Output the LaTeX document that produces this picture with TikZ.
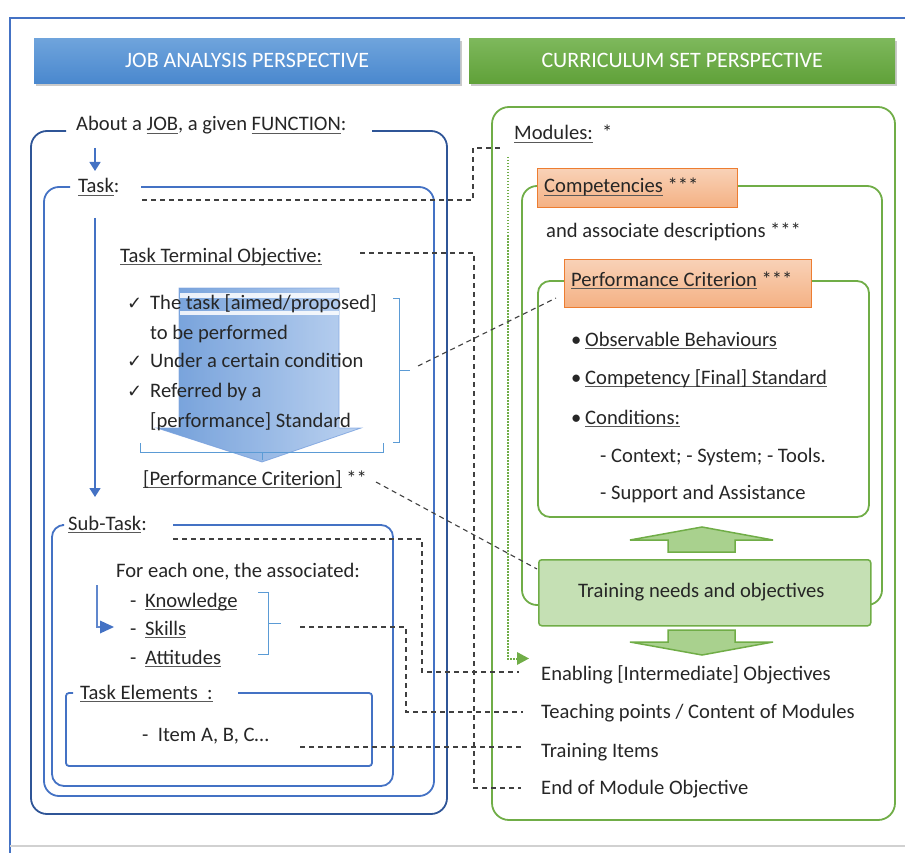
\documentclass[tikz,border=0pt]{standalone}
\usepackage{fontspec}
\setmainfont{Carlito}
\newfontfamily\symfont{DejaVu Sans}
\usetikzlibrary{arrows.meta,shadows}

% underline at a fixed depth below the baseline
\newcommand\ulx[1]{\setbox0\hbox{#1}\rlap{\color{black!65}\rule[-3.2pt]{\wd0}{1.1pt}}\box0\relax}
\newcommand\tick{{\symfont\fontsize{18}{20}\selectfont ✓}}

\definecolor{jobblue}{HTML}{4472C4}
\definecolor{darkblue}{HTML}{2F5597}
\definecolor{cgreen}{HTML}{70AD47}
\definecolor{lgreen}{HTML}{C5E0B4}
\definecolor{mgreen}{HTML}{A9D18E}
\definecolor{orangeb}{HTML}{ED7D31}
\definecolor{txtc}{HTML}{262626}
\definecolor{dashc}{HTML}{404040}
\definecolor{brk}{HTML}{5B9BD5}

\tikzset{
  lbl/.style={anchor=base west, inner sep=0pt, text=txtc, font=\fontsize{20.6}{24}\selectfont},
  header/.style={minimum height=45pt, inner sep=0pt, text=white, font=\fontsize{22}{26}\selectfont,
    drop shadow={shadow xshift=2pt, shadow yshift=-3pt, opacity=0.35, fill=black!60}},
  bluebox/.style={draw=jobblue, line width=1.8pt, rounded corners=#1},
  greenbox/.style={draw=cgreen, line width=1.8pt, rounded corners=#1},
  orangebox/.style={draw=orangeb, line width=1pt, top color=orangeb!35, bottom color=orangeb!60,
    anchor=north west, inner sep=0pt},
  linkdash/.style={draw=dashc, line width=1.1pt, dash pattern=on 5pt off 4pt},
  bracket/.style={draw=brk, line width=1pt},
  blueflow/.style={draw=jobblue, line width=1.6pt, -{Triangle[width=11pt,length=9pt]}},
  blockarrow/.style={draw=cgreen, line width=1.5pt, fill=mgreen},
}

\begin{document}
\begin{tikzpicture}[x=1pt, y=-1pt]
\useasboundingbox (0,0) rectangle (905,853);

% page frame
\draw[jobblue, line width=1.5pt] (905,18) -- (10,18) -- (10,853);
\draw[black!18, line width=2pt] (10,846) -- (905,846);

% headers
\node[header, minimum width=426pt, anchor=north west,
  top color={rgb,255:red,111;green,164;blue,220}, bottom color={rgb,255:red,74;green,136;blue,206}]
  (hjob) at (34,38) {JOB ANALYSIS PERSPECTIVE};
\node[header, minimum width=426pt, anchor=north west,
  top color={rgb,255:red,126;green,184;blue,92}, bottom color={rgb,255:red,96;green,161;blue,57}]
  (hcur) at (469,38) {CURRICULUM SET PERSPECTIVE};

% ---------------- job analysis side ----------------
\draw[draw=darkblue, line width=1.8pt, rounded corners=16pt]
  (66,131) -- (31,131) -- (31,814) -- (447,814) -- (447,131) -- (372,131);
\node[lbl] (job) at (76,131) {About a \ulx{JOB}, a given \ulx{FUNCTION}:};

\draw[bluebox=15pt] (70,187) -- (44,187) -- (44,796) -- (434,796) -- (434,187) -- (141,187);
\node[lbl] (task) at (78,193) {\ulx{Task}:};

\coordinate (a1s) at (95,148); \coordinate (a1e) at (95,171);
\draw[blueflow] (a1s) -- (a1e);
\coordinate (a2s) at (95,218); \coordinate (a2e) at (95,497);
\draw[blueflow] (a2s) -- (a2e);

\node[lbl] (tto) at (120,262) {\ulx{Task Terminal Objective:}};

% translucent down arrow behind the objective list
\path[left color={rgb,255:red,78;green,134;blue,208}, right color={rgb,255:red,170;green,198;blue,236},
  draw={rgb,255:red,120;green,160;blue,222}, line width=0.8pt, opacity=0.8]
  (179,288) -- (339,288) -- (339,428) -- (361,428) -- (262,462) -- (157,428) -- (179,428) -- cycle;
\fill[white, opacity=0.85] (179.5,293) rectangle (338.5,298);
\fill[white, opacity=0.85] (179.5,311) rectangle (338.5,315);

\node[lbl] (ck1) at (127,309) {\tick};
\node[lbl] (l1) at (150,309) {The task [aimed/proposed]};
\node[lbl] (l2) at (150,339) {to be performed};
\node[lbl] (ck2) at (127,367) {\tick};
\node[lbl] (l3) at (150,367) {Under a certain condition};
\node[lbl] (ck3) at (127,397) {\tick};
\node[lbl] (l4) at (150,397) {Referred by a};
\node[lbl] (l5) at (150,427) {[performance] Standard};

% brackets around the objective list
\draw[bracket] (393,298) -- (399,298) -- (399,442) -- (393,442);
\coordinate (brR) at (410,370);
\draw[bracket] (399,370) -- (brR);
\draw[bracket] (140,443) -- (140,452) -- (383,452) -- (383,443);
\draw[bracket] (262,452) -- (262,460);

\node[lbl] (pc) at (143,485) {\ulx{[Performance Criterion]} **};

% sub-task
\draw[bluebox=12pt] (62,525) -- (52,525) -- (52,786) -- (393,786) -- (393,525) -- (173,525);
\node[lbl] (sub) at (68,530) {\ulx{Sub-Task}:};
\node[lbl] (fe) at (116,577) {For each one, the associated:};
\node[lbl] (d1) at (130,607) {-};
\node[lbl] (kn) at (145,607) {\ulx{Knowledge}};
\node[lbl] (d2) at (130,635) {-};
\node[lbl] (sk) at (145,635) {\ulx{Skills}};
\node[lbl] (d3) at (130,664) {-};
\node[lbl] (at) at (145,664) {\ulx{Attitudes}};

% bent pointer towards the skills list
\coordinate (a3s) at (97,585); \coordinate (a3m) at (97,627); \coordinate (a3e) at (101,627);
\draw[draw=jobblue!85, line width=1.3pt] (a3s) -- (a3m) -- (a3e);
\fill[jobblue] (100,620.5) -- (114,627) -- (100,633.5) -- cycle;

\draw[bracket] (258,592) -- (268,592) -- (268,654) -- (258,654);
\coordinate (ksaR) at (281,623);
\draw[bracket] (268,623) -- (ksaR);

% task elements
\draw[bluebox=3pt] (73,693) -- (66,693) -- (66,766) -- (372,766) -- (372,693) -- (238,693);
\node[lbl] (te) at (80,699) {\ulx{Task Elements\ \ :}};
\node[lbl] (it) at (142,741) {-\ \ Item A, B, C…};

% ---------------- curriculum side ----------------
\draw[greenbox=17pt] (492,107) rectangle (895,820);
\node[lbl] (mod) at (514,140) {\ulx{Modules:}\ \ *};

\draw[greenbox=15pt] (522,186) rectangle (882,605);
\node[orangebox, minimum width=200pt, minimum height=39pt] (comp) at (537,168) {};
\node[lbl] (compt) at (544,193) {\ulx{Competencies} ***};
\node[lbl] (desc) at (546,238) {and associate descriptions ***};

\draw[greenbox=12pt] (538,281) rectangle (869,517);
\node[orangebox, minimum width=247pt, minimum height=48pt] (perf) at (564,259) {};
\node[lbl] (perft) at (571,286) {\ulx{Performance Criterion} ***};

\node[lbl] (b1) at (571,346) {•};
\node[lbl] (ob) at (585,346) {\ulx{Observable Behaviours}};
\node[lbl] (b2) at (571,384) {•};
\node[lbl] (cs) at (585,384) {\ulx{Competency [Final] Standard}};
\node[lbl] (b3) at (571,424) {•};
\node[lbl] (cond) at (585,424) {\ulx{Conditions:}};
\node[lbl] (ctx) at (600,462) {- Context; - System; - Tools.};
\node[lbl] (sup) at (600,499) {- Support and Assistance};

% block arrows around the training box
\draw[blockarrow] (702,527) -- (773,540) -- (735,540) -- (735,552) -- (668,552) -- (668,540) -- (630,540) -- cycle;
\node[draw=cgreen, line width=1.5pt, fill=lgreen, rounded corners=3pt, minimum width=332pt, minimum height=66pt,
  anchor=north west, inner sep=0pt] (train) at (538,559) {};
\node[lbl] (traint) at (578,597) {Training needs and objectives};
\draw[blockarrow] (668,630) -- (735,630) -- (735,642) -- (773,642) -- (702,655) -- (630,642) -- (668,642) -- cycle;

\node[lbl] (eio) at (541,680) {Enabling [Intermediate] Objectives};
\node[lbl] (tp) at (541,718) {Teaching points / Content of Modules};
\node[lbl] (ti) at (541,757) {Training Items};
\node[lbl] (emo) at (541,794) {End of Module Objective};

% dotted module flow
\coordinate (dots) at (508,157); \coordinate (dotc) at (508,659);
\coordinate (dote) at (518,659);
\draw[draw=cgreen, line width=1.5pt, dash pattern=on 1.5pt off 1.5pt] (dots) -- (dotc) -- (dote);
\fill[cgreen] (517,652) -- (529,658.5) -- (517,665) -- cycle;

% ---------------- dashed correspondences ----------------
\coordinate (taskL) at (142,200); \coordinate (modL) at (500,148);
\draw[linkdash] (taskL) -- (473,200) -- (473,148) -- (modL);

\coordinate (ttoL) at (360,253); \coordinate (emoL) at (521,788);
\draw[linkdash] (ttoL) -- (474,253) -- (474,788) -- (emoL);

\coordinate (brL) at (418,366); \coordinate (perfL) at (556,298);
\draw[linkdash] (brL) -- (perfL);

\coordinate (pcL) at (376,482); \coordinate (trainL) at (537,569);
\draw[linkdash] (pcL) -- (trainL);

\coordinate (subL) at (173,539); \coordinate (eioL) at (519,672);
\draw[linkdash] (subL) -- (422,539) -- (422,672) -- (eioL);

\coordinate (ksaL) at (300,627); \coordinate (tpL) at (523,712);
\draw[linkdash] (ksaL) -- (406,627) -- (406,712) -- (tpL);

\coordinate (itL) at (300,747); \coordinate (tiL) at (523,747);
\draw[linkdash] (itL) -- (tiL);
\end{tikzpicture}
\end{document}
